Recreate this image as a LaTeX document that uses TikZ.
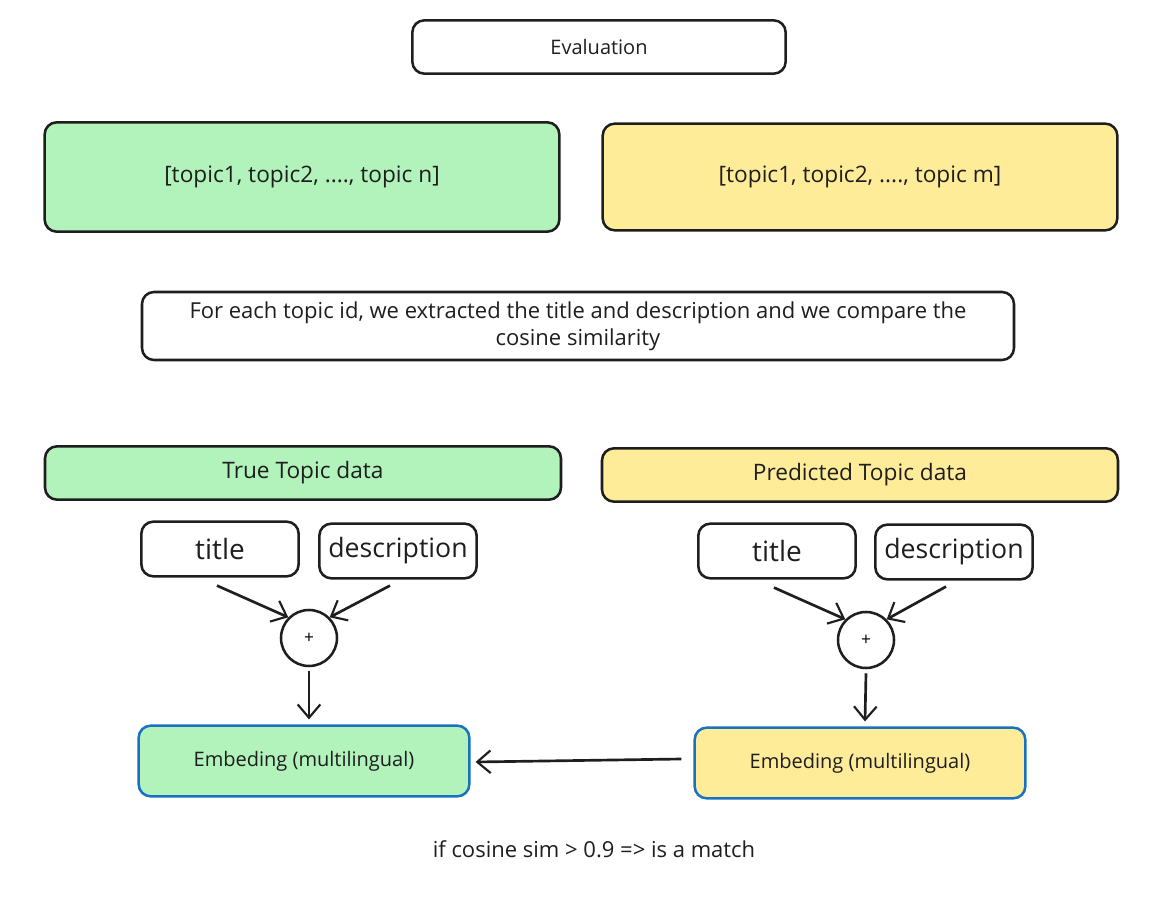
\documentclass[tikz,border=0pt]{standalone}
\usepackage{fontspec}
\setmainfont{Open Sans}
\usetikzlibrary{arrows.meta,calc}
\definecolor{mygreen}{HTML}{B2F2BB}
\definecolor{myyellow}{HTML}{FFEC99}
\definecolor{myblue}{HTML}{1971C2}
\definecolor{ink}{HTML}{1E1E1E}
\tikzset{
  box/.style={draw=ink,line width=1.9pt,rounded corners=9pt,align=center,text=ink,inner sep=0pt},
  greenbox/.style={box,fill=mygreen},
  yellowbox/.style={box,fill=myyellow},
  embbox/.style={box,draw=myblue},
  arr/.style={draw=ink,line width=2pt,-{Straight Barb[length=10pt,width=17pt,line width=1.6pt]}}
}
\begin{document}
\begin{tikzpicture}[x=0.75pt,y=-0.75pt]
\useasboundingbox (0,0) rectangle (1172,898);
\node[box,minimum width=280pt,minimum height=40pt,font=\fontsize{15}{17}\selectfont] (eval) at (599,47) {Evaluation};
\node[greenbox,minimum width=386pt,minimum height=82pt,font=\fontsize{17}{20}\selectfont] (truelist) at (302,177) {[topic1, topic2, ...., topic n]};
\node[yellowbox,minimum width=386pt,minimum height=80pt,font=\fontsize{17}{20}\selectfont] (predlist) at (860,177) {[topic1, topic2, ...., topic m]};
\node[box,minimum width=654pt,minimum height=51pt,font=\fontsize{16.5}{20}\selectfont] (info) at (578,326)
  {For each topic id, we extracted the title and description and we compare the\\cosine similarity};
% data boxes
\node[greenbox,minimum width=387pt,minimum height=40pt,font=\fontsize{17}{19}\selectfont] (truedata) at (303,473) {True Topic data};
\node[yellowbox,minimum width=387pt,minimum height=40pt,font=\fontsize{17}{19}\selectfont] (preddata) at (860,475) {Predicted Topic data};
\node[box,minimum width=118pt,minimum height=41pt,font=\fontsize{21}{23}\selectfont] (ltitle) at (220,549) {title};
\node[box,minimum width=118pt,minimum height=41pt,font=\fontsize{20}{22}\selectfont] (ldesc) at (398,551) {description};
\node[box,minimum width=118pt,minimum height=41pt,font=\fontsize{21}{23}\selectfont] (rtitle) at (777,551) {title};
\node[box,minimum width=118pt,minimum height=41pt,font=\fontsize{20}{22}\selectfont] (rdesc) at (954,552) {description};
\node[draw=ink,line width=1.9pt,circle,minimum size=42pt,inner sep=0pt,font=\fontsize{13}{15}\selectfont] (lplus) at (309,638) {+};
\node[draw=ink,line width=1.9pt,circle,minimum size=42pt,inner sep=0pt,font=\fontsize{13}{15}\selectfont] (rplus) at (866,640) {+};
\node[greenbox,embbox,minimum width=248pt,minimum height=53pt,font=\fontsize{15}{17}\selectfont] (lemb) at (304,761) {Embeding (multilingual)};
\node[yellowbox,embbox,minimum width=248pt,minimum height=53pt,font=\fontsize{15}{17}\selectfont] (remb) at (860,763) {Embeding (multilingual)};
\node[text=ink,font=\fontsize{16.5}{19}\selectfont] (rule) at (594,849) {if cosine sim > 0.9 => is a match};
% arrows
\draw[arr] ($(ltitle.south)+(-3,8)$) -- (lplus.north west);
\draw[arr] ($(ldesc.south)+(-8,6)$) -- (lplus.north east);
\draw[arr] ($(lplus.south)+(0,4)$) -- ($(lemb.north)+(5,-5)$);
\draw[arr] ($(rtitle.south)+(-3,8)$) -- (rplus.north west);
\draw[arr] ($(rdesc.south)+(-8,6)$) -- (rplus.north east);
\draw[arr] ($(rplus.south)+(0,4)$) -- ($(remb.north)+(5,-5)$);
\draw[arr] ($(remb.west)+(-12,-4)$) -- ($(lemb.east)+(5,1)$);
\end{tikzpicture}
\end{document}
